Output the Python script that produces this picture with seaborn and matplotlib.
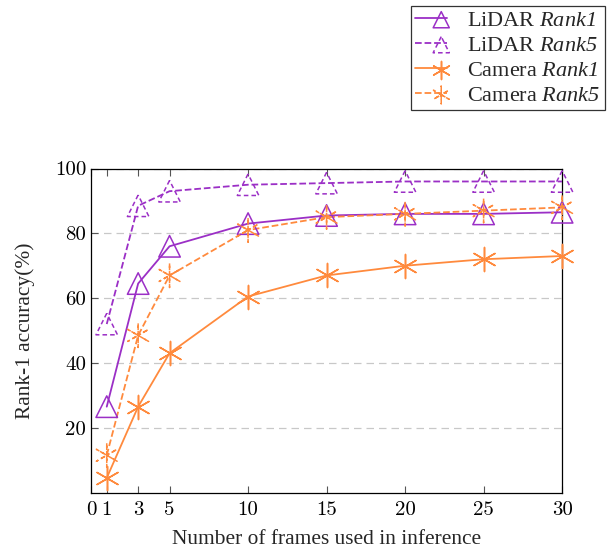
import matplotlib
matplotlib.use("Agg")
import matplotlib.pyplot as plt
import seaborn as sns
import pandas as pd
from matplotlib.lines import Line2D
from matplotlib.legend_handler import HandlerTuple

frames = [1, 3, 5, 10, 15, 20, 25, 30]
lidar_rank1 = [26.5, 64.5, 76, 83, 85.5, 86, 86, 86.5]
lidar_rank5 = [52, 88.5, 93, 95, 95.5, 96, 96, 96]
camera_rank1 = [4.5, 26.5, 43, 60.5, 67, 70, 72, 73]
camera_rank5 = [11.5, 48.5, 67, 81, 85, 86, 87, 88]
xticks = [0, 1, 3, 5, 10, 15, 20, 25, 30]
yticks = [20, 40, 60, 80, 100]

purple = "#9B2FC6"
orange = "#FF8A3D"

sns.set_theme(style="white")
plt.rcParams["font.family"] = ["Liberation Serif", "DejaVu Serif"]
plt.rcParams["mathtext.fontset"] = "custom"
plt.rcParams["mathtext.rm"] = "Liberation Serif:italic"
plt.rcParams["mathtext.it"] = "Liberation Serif:italic"
plt.rcParams["axes.unicode_minus"] = False

fig = plt.figure(figsize=(6.11, 5.5), dpi=100)
ax = fig.add_axes([0.149, 0.1045, 0.771, 0.5891])

series = [
    ("LiDAR $Rank1$", lidar_rank1, purple, "-", "^"),
    ("LiDAR $Rank5$", lidar_rank5, purple, "--", "^"),
    ("Camera $Rank1$", camera_rank1, orange, "-", (6, 2, 0)),
    ("Camera $Rank5$", camera_rank5, orange, "--", (6, 2, 0)),
]

handles = []
labels = []
for name, vals, col, ls, mk in series:
    df = pd.DataFrame({"x": frames, "y": vals})
    sns.lineplot(data=df, x="x", y="y", ax=ax, color=col, linestyle=ls,
                 linewidth=1.3, zorder=3)
    sc = ax.scatter(frames, vals, s=240 if mk == "^" else 300, marker=mk,
                    facecolors="none" if mk == "^" else col,
                    edgecolors=col, linewidths=1.1,
                    linestyles="solid" if ls == "-" else (0, (3, 2)),
                    zorder=4, clip_on=False)
    ln = Line2D([], [], color=col, linestyle=ls, linewidth=1.3)
    handles.append((ln, sc))
    labels.append(name)

ax.set_xlim(0, 30)
ax.set_ylim(0, 100)
ax.set_xticks(xticks)
ax.set_xticklabels([str(t) for t in xticks], fontfamily="cmr10")
ax.set_yticks(yticks)
ax.set_yticklabels([str(t) for t in yticks], fontfamily="cmr10")
ax.tick_params(axis="both", which="both", direction="in", length=5, width=0.8,
               colors="#555555", labelcolor="black", labelsize=15,
               top=True, right=False, bottom=True, left=True)
ax.tick_params(axis="x", pad=6)
ax.yaxis.grid(True, linestyle=(0, (6, 4)), color="#c8c8c8", linewidth=0.9)
ax.xaxis.grid(False)
for sp in ax.spines.values():
    sp.set_color("black")
    sp.set_linewidth(0.9)

ax.set_xlabel("Number of frames used in inference", fontsize=15.4, labelpad=8)
ax.set_ylabel("Rank-1 accuracy(%)", fontsize=15.4, labelpad=14)

leg = fig.legend(handles, labels, loc="upper right", bbox_to_anchor=(0.997, 0.998),
                 handler_map={tuple: HandlerTuple(ndivide=None, pad=-1.0)},
                 fontsize=16, frameon=True, fancybox=False, edgecolor="black",
                 handlelength=1.9, handletextpad=0.45, borderpad=0.2,
                 labelspacing=0.2, markerscale=0.75, borderaxespad=0.2)
leg.get_frame().set_linewidth(0.9)

fig.savefig("out.png", dpi=100)
